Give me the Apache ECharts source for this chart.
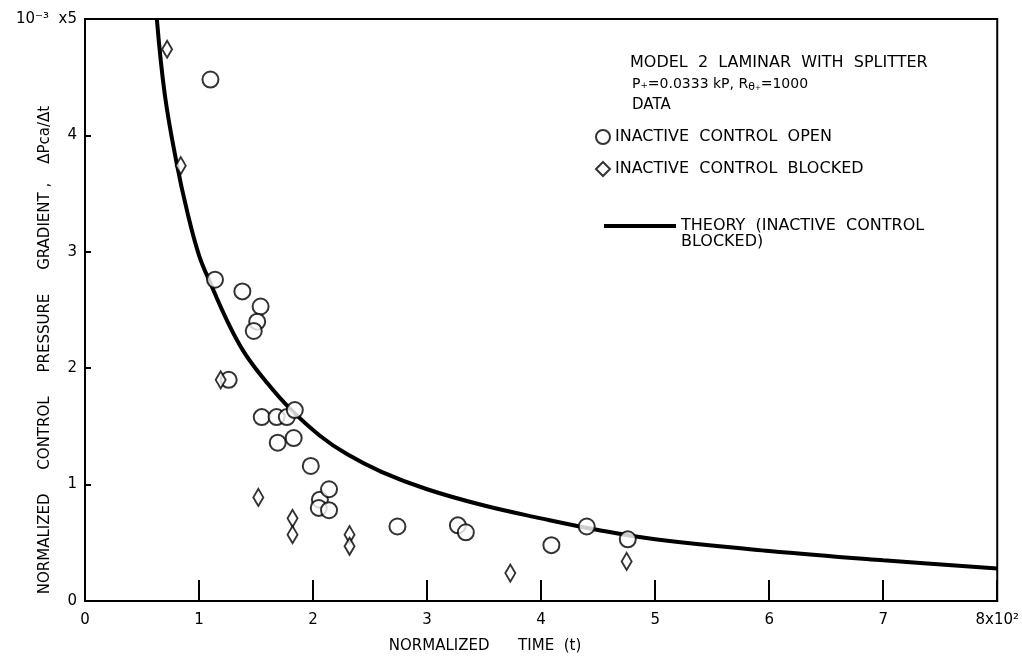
<!DOCTYPE html>
<html>
<head>
<meta charset="utf-8">
<script src="https://cdn.jsdelivr.net/npm/echarts@6/dist/echarts.min.js"></script>
<style>html,body{margin:0;padding:0;background:#fff}#c{width:1022px;height:662px}</style>
</head>
<body>
<div id="c"></div>
<script>
// Data (x: normalized time /100, y: gradient x1e-3)
const openControl = [
  [1.10,4.48],[1.14,2.76],[1.38,2.66],[1.54,2.53],[1.51,2.40],[1.48,2.32],[1.26,1.90],
  [1.55,1.58],[1.68,1.58],[1.77,1.58],[1.84,1.64],[1.69,1.36],[1.83,1.40],[1.98,1.16],
  [2.06,0.87],[2.05,0.80],[2.14,0.96],[2.14,0.78],[2.74,0.64],[3.27,0.65],[3.34,0.59],
  [4.09,0.48],[4.40,0.64],[4.76,0.53]
];
const blockedControl = [
  [0.72,4.74],[0.84,3.74],[1.19,1.90],[1.52,0.89],[1.82,0.71],[1.82,0.57],
  [2.32,0.57],[2.32,0.47],[3.73,0.24],[4.75,0.34]
];
const theory = [
  [0.63,5.0],[0.70,4.35],[0.80,3.78],[0.90,3.33],[1.00,2.97],[1.10,2.73],[1.25,2.40],
  [1.40,2.13],[1.60,1.87],[1.80,1.65],[2.06,1.42],[2.30,1.26],[2.60,1.11],[3.00,0.96],
  [3.50,0.82],[4.00,0.71],[4.50,0.61],[5.00,0.53],[6.00,0.43],[7.00,0.35],[8.00,0.28]
];
const xTicks = ['0','1','2','3','4','5','6','7','8x10²'];
const yTicks = ['0','1','2','3','4','10⁻³  x5'];
const seriesNames = ['INACTIVE CONTROL OPEN','INACTIVE CONTROL BLOCKED','THEORY (INACTIVE CONTROL BLOCKED)'];

const FONT = 'DejaVu Sans';
const chart = echarts.init(document.getElementById('c'));
chart.setOption({
  backgroundColor:'#fff',
  animation:false,
  grid:{left:85,right:24,top:19,bottom:61,show:true,borderColor:'#000',borderWidth:2},
  xAxis:{type:'value',min:0,max:8,interval:1,
    axisLine:{lineStyle:{color:'#000',width:2}},
    axisTick:{inside:true,length:21,lineStyle:{color:'#000',width:2}},
    splitLine:{show:false},
    axisLabel:{color:'#000',fontFamily:FONT,fontSize:15,margin:12,
      formatter:(v)=>xTicks[Math.round(v)]}},
  yAxis:{type:'value',min:0,max:5,interval:1,
    axisLine:{lineStyle:{color:'#000',width:2}},
    axisTick:{inside:true,length:6,lineStyle:{color:'#000',width:2}},
    splitLine:{show:false},
    axisLabel:{color:'#000',fontFamily:FONT,fontSize:15,margin:8,
      formatter:(v)=>yTicks[Math.round(v)]}},
  legend:[
    {data:[{name:seriesNames[0],icon:'circle'},{name:seriesNames[1],icon:'diamond'}],
     orient:'vertical',left:595,top:128,padding:0,itemGap:14,itemWidth:14,itemHeight:14,
     formatter:(n)=>n.split(' ').join('  '),
     textStyle:{color:'#000',fontFamily:FONT,fontSize:16,lineHeight:18}},
    {data:[{name:seriesNames[2],icon:'rect'}],
     orient:'vertical',left:604,top:202,padding:0,itemWidth:72,itemHeight:4,itemGap:10,
     formatter:()=> '\nTHEORY  (INACTIVE  CONTROL\nBLOCKED)',
     textStyle:{color:'#000',fontFamily:FONT,fontSize:16,lineHeight:16}}
  ],
  graphic:[
    {type:'text',x:630,y:63,style:{text:'MODEL  2  LAMINAR  WITH  SPLITTER',fill:'#000',font:'16px "DejaVu Sans"',verticalAlign:'middle'}},
    {type:'text',x:632,y:84,style:{
      text:'P₊=0.0333 kP, R{s|θ₊}=1000',fill:'#000',font:'14px "DejaVu Sans"',verticalAlign:'middle',
      rich:{s:{fontSize:11,fontFamily:FONT,verticalAlign:'bottom',padding:[7,0,0,0]}}}},
    {type:'text',x:632,y:105,style:{text:'DATA',fill:'#000',font:'15px "DejaVu Sans"',verticalAlign:'middle'}},
    {type:'text',x:485,y:646,style:{text:'NORMALIZED      TIME  (t)',fill:'#000',font:'15px "DejaVu Sans"',align:'center',verticalAlign:'middle'}},
    {type:'text',x:45,y:350,rotation:Math.PI/2,style:{text:'NORMALIZED     CONTROL     PRESSURE     GRADIENT ,    ΔPca/Δt',fill:'#000',font:'15px "DejaVu Sans"',align:'center',verticalAlign:'middle'}}
  ],
  series:[
    {name:seriesNames[0],type:'scatter',data:openControl,symbol:'circle',symbolSize:16,
     itemStyle:{color:'#fff',borderColor:'#000',borderWidth:2},z:3},
    {name:seriesNames[1],type:'scatter',data:blockedControl,symbol:'diamond',symbolSize:[10,17],
     itemStyle:{color:'#fff',borderColor:'#000',borderWidth:2},z:3},
    {name:seriesNames[2],type:'line',data:theory,smooth:0.4,symbol:'none',clip:true,
     lineStyle:{color:'#000',width:4},itemStyle:{color:'#000'},z:2}
  ]
});
</script>
</body>
</html>
